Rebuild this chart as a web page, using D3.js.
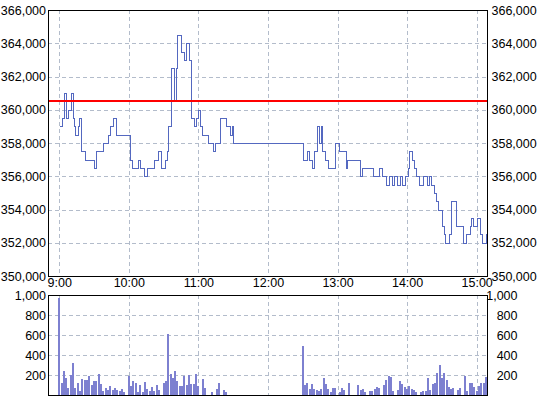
<!DOCTYPE html>
<html>
<head>
<meta charset="utf-8">
<script src="https://cdn.jsdelivr.net/npm/d3@7"></script>
<style>
body { margin: 0; background: #fff; }
</style>
</head>
<body>
<div id="chart"></div>
<script>
// price: change points of the step line (time, price)
var priceTimes = ["9:00","9:02","9:04","9:06","9:08","9:10","9:12","9:13","9:14","9:16",
  "9:17","9:19","9:22","9:30","9:32","9:38","9:42","9:44","9:46","9:49",
  "10:01","10:03","10:08","10:10","10:13","10:16","10:22","10:25","10:28","10:31",
  "10:33","10:34","10:36","10:39","10:41","10:42","10:45","10:48","10:49","10:52",
  "10:54","10:56","10:58","11:00","11:01","11:03","11:08","11:13","11:14","11:19",
  "11:24","11:27","11:29","11:30",
  "12:30","12:34","12:35","12:38","12:40","12:42","12:44","12:46","12:47","12:49",
  "12:52","12:58","13:01","13:07","13:08","13:19","13:21","13:31","13:36","13:38",
  "13:42","13:44","13:47","13:49","13:51","13:54","13:56","13:58","14:01","14:02",
  "14:04","14:06","14:08","14:10","14:14","14:17","14:19","14:21","14:23","14:25",
  "14:27","14:30","14:32","14:33","14:36","14:38","14:42","14:48","14:51","14:54",
  "14:55","14:57","15:00","15:03","15:05","15:08"];
var priceValues = [359000,359500,361000,359500,360000,361000,359500,359000,358500,359000,
  359500,357500,357000,356500,357500,358000,358500,359000,359500,358500,
  357000,356500,357000,356500,356000,356500,357000,357500,356500,357000,
  357500,359000,362500,360500,362500,364500,363500,363000,364000,363000,
  359500,359000,359500,360000,359000,358500,358000,357500,358000,359500,
  359000,358500,359000,358000,
  357000,357500,357000,356500,357500,359000,358000,359000,357500,357000,
  356500,358000,357500,356500,357000,356000,356500,356000,356500,356000,
  355500,356000,355500,356000,355500,356000,355500,356000,356500,357500,
  357000,356500,356000,355500,356000,355500,356000,355500,355000,354500,
  354000,353000,352500,352000,352500,354500,353000,352000,352500,353000,
  353500,353000,353500,352500,352000,352500];
var priceEnd = "15:10";
var refPrice = 360500;

// volume: 2-minute bars
var volStartAM = "9:00";
var volAM = [970,120,240,170,70,200,320,70,120,40,
  160,150,150,190,100,140,140,210,110,40,
  70,50,90,50,70,50,40,60,30,0,
  190,90,140,120,30,100,30,130,60,40,
  80,40,100,50,0,120,140,610,210,170,
  240,140,90,90,190,100,200,110,110,210,
  90,0,160,70,0,0,30,0,60,120,
  0,50,30,0,0,0];
var volStartPM = "12:30";
var volPM = [490,100,120,60,110,60,50,40,60,170,
  110,60,30,70,70,0,30,70,50,0,
  120,0,0,0,100,50,60,30,0,40,
  40,60,80,70,0,100,150,190,180,40,
  0,50,140,110,80,60,90,60,50,30,
  0,30,40,40,170,50,110,120,220,300,
  170,220,150,80,60,70,0,50,70,0,
  190,40,120,120,80,40,90,120,120,180,
  170];

var xTickLabels = ["9:00","10:00","11:00","12:00","13:00","14:00","15:00"];
var priceTicks = [350000,352000,354000,356000,358000,360000,362000,364000,366000];
var volTicks = [200,400,600,800,1000];

function parseT(s) {
  var p = s.split(":");
  return new Date(2000, 0, 1, +p[0], +p[1]);
}

var width = 540, height = 398;
var left = 48, right = 487.5;
var mainTop = 10, mainBottom = 276;
var volTop = 295, volBottom = 395;
var font = "'Liberation Sans', Arial, sans-serif";
var gridColor = "#b3bccb";

var svg = d3.select("#chart").append("svg")
  .attr("width", width)
  .attr("height", height)
  .style("display", "block");

var x = d3.scaleTime()
  .domain([new Date(2000, 0, 1, 8, 50, 20), new Date(2000, 0, 1, 15, 9, 20)])
  .range([left, right]);

var yP = d3.scaleLinear().domain([350000, 366000]).range([mainBottom, mainTop]);
var yV = d3.scaleLinear().domain([0, 1000]).range([volBottom, volTop]);

var hourTicks = xTickLabels.map(parseT);

svg.append("defs").append("clipPath").attr("id", "clipMain")
  .append("rect").attr("x", left).attr("y", mainTop).attr("width", right - left).attr("height", mainBottom - mainTop);
svg.select("defs").append("clipPath").attr("id", "clipVol")
  .append("rect").attr("x", left).attr("y", volTop).attr("width", right - left).attr("height", volBottom - volTop);

// grids
function grid(g, yScale, yVals, y0, y1) {
  g.selectAll("line.h").data(yVals).enter().append("line")
    .attr("x1", left).attr("x2", right)
    .attr("y1", function(d) { return Math.round(yScale(d)) + 0.5; })
    .attr("y2", function(d) { return Math.round(yScale(d)) + 0.5; });
  g.selectAll("line.v").data(hourTicks).enter().append("line")
    .attr("y1", y0).attr("y2", y1)
    .attr("x1", function(d) { return Math.round(x(d)) + 0.5; })
    .attr("x2", function(d) { return Math.round(x(d)) + 0.5; });
  g.selectAll("line")
    .attr("stroke", gridColor)
    .attr("stroke-dasharray", "4,3")
    .attr("shape-rendering", "crispEdges");
}

grid(svg.append("g"), yP, priceTicks.slice(1, -1), mainTop, mainBottom);
grid(svg.append("g"), yV, volTicks.slice(0, -1), volTop, volBottom);

// price step line
var pts = priceTimes.map(function(t, i) { return { t: parseT(t), v: priceValues[i] }; });
pts.push({ t: parseT(priceEnd), v: priceValues[priceValues.length - 1] });

var line = d3.line()
  .curve(d3.curveStepAfter)
  .x(function(d) { return Math.round(x(d.t)) + 0.5; })
  .y(function(d) { return Math.round(yP(d.v)) + 0.5; });

svg.append("path")
  .datum(pts)
  .attr("clip-path", "url(#clipMain)")
  .attr("fill", "none")
  .attr("stroke", "#5468c0")
  .attr("stroke-width", 1)
  .attr("shape-rendering", "crispEdges")
  .attr("d", line);

// reference price line
svg.append("line")
  .attr("x1", left).attr("x2", right)
  .attr("y1", Math.round(yP(refPrice))).attr("y2", Math.round(yP(refPrice)))
  .attr("stroke", "#ff0000")
  .attr("stroke-width", 2);

// volume bars
var bars = [];
var amStart = parseT(volStartAM), pmStart = parseT(volStartPM);
volAM.forEach(function(v, i) { bars.push({ t: d3.timeMinute.offset(amStart, i * 2), v: v }); });
volPM.forEach(function(v, i) { bars.push({ t: d3.timeMinute.offset(pmStart, i * 2), v: v }); });

svg.append("g")
  .attr("clip-path", "url(#clipVol)")
  .selectAll("rect")
  .data(bars.filter(function(d) { return d.v > 0; }))
  .enter().append("rect")
  .attr("x", function(d) { return Math.round(x(d.t)) - 1; })
  .attr("width", 2)
  .attr("y", function(d) { return Math.round(yV(d.v)); })
  .attr("height", function(d) { return volBottom - Math.round(yV(d.v)); })
  .attr("fill", "#7d80d0")
  .attr("shape-rendering", "crispEdges");

// borders
[[mainTop, mainBottom], [volTop, volBottom]].forEach(function(r) {
  svg.append("rect")
    .attr("x", left + 0.5).attr("y", r[0] + 0.5)
    .attr("width", right - left - 1).attr("height", r[1] - r[0])
    .attr("fill", "none")
    .attr("stroke", "#000")
    .attr("shape-rendering", "crispEdges");
});

// axes
function styleAxis(g) {
  g.select(".domain").remove();
  g.attr("font-family", font).attr("font-size", 12.5);
  g.selectAll("text").attr("fill", "#000");
}

var fmt = d3.format(",");

svg.append("g")
  .attr("transform", "translate(" + left + ",0)")
  .call(d3.axisLeft(yP).tickValues(priceTicks).tickSize(0).tickPadding(2).tickFormat(fmt))
  .call(styleAxis);

svg.append("g")
  .attr("transform", "translate(" + right + ",0)")
  .call(d3.axisRight(yP).tickValues(priceTicks).tickSize(0).tickPadding(4).tickFormat(fmt))
  .call(styleAxis);

svg.append("g")
  .attr("transform", "translate(0," + mainBottom + ")")
  .call(d3.axisBottom(x).tickValues(hourTicks).tickSize(0).tickPadding(2)
    .tickFormat(function(d, i) { return xTickLabels[i]; }))
  .call(styleAxis);

svg.append("g")
  .attr("transform", "translate(" + left + ",0)")
  .call(d3.axisLeft(yV).tickValues(volTicks).tickSize(0).tickPadding(2).tickFormat(fmt))
  .call(styleAxis);

svg.append("g")
  .attr("transform", "translate(" + right + ",0)")
  .call(d3.axisRight(yV).tickValues(volTicks).tickSize(0).tickPadding(4).tickFormat(fmt))
  .call(styleAxis)
  .selectAll("text")
  .attr("text-anchor", "end")
  .attr("x", 30);
</script>
</body>
</html>
